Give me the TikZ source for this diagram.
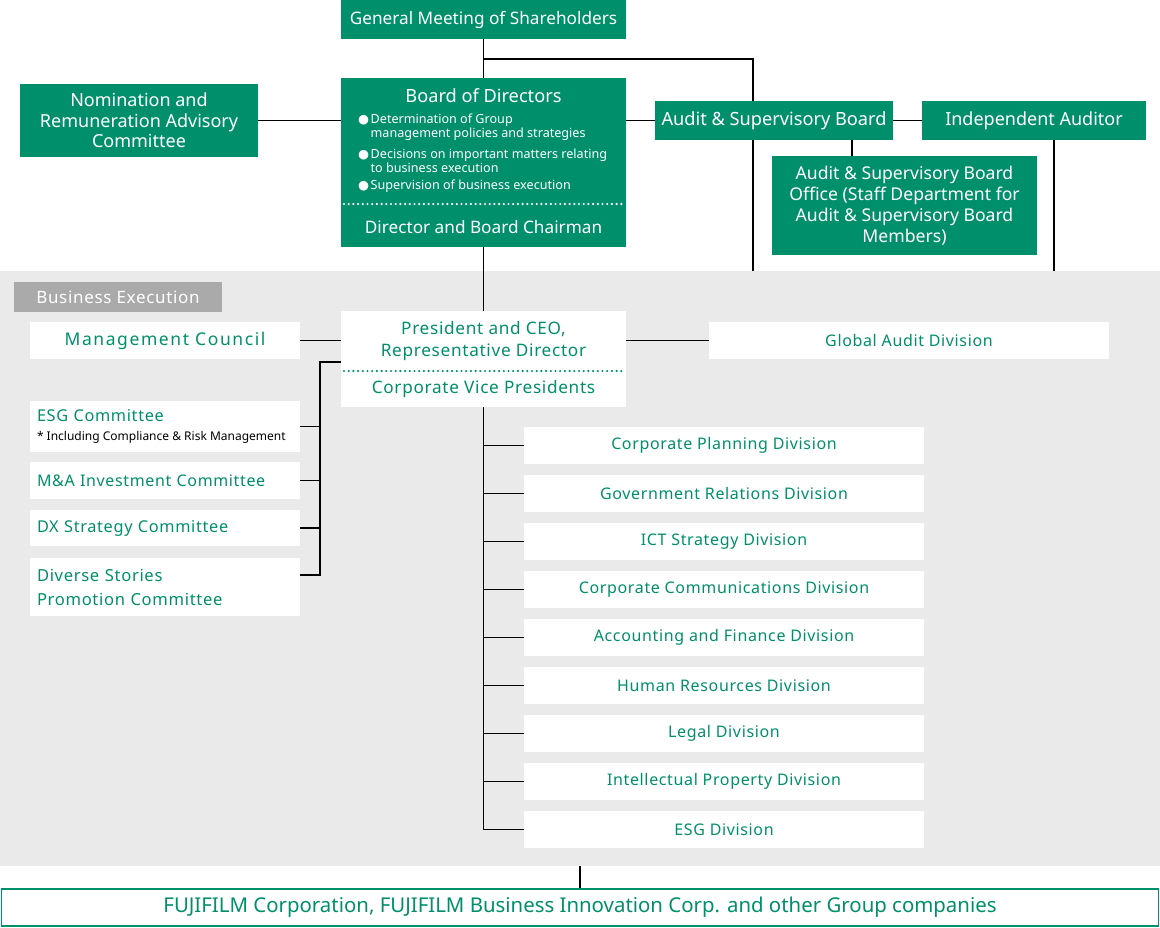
\documentclass[tikz,border=0pt]{standalone}
\usepackage{fontspec}
\setmainfont{Noto Sans}
\newfontfamily\widefont[LetterSpace=4]{Noto Sans}
\newfontfamily\widerfont[LetterSpace=9]{Noto Sans}
\newfontfamily\dotfont{DejaVu Sans}

\definecolor{fujigreen}{RGB}{0,143,107}
\definecolor{bggray}{RGB}{234,234,234}
\definecolor{labelgray}{RGB}{170,170,170}

\pgfdeclarelayer{bg}
\pgfdeclarelayer{lines}
\pgfsetlayers{bg,lines,main}

\tikzset{
  greenbox/.style={fill=fujigreen,text=white,inner sep=0pt,align=center,font=\fontsize{17.6}{20.8}\selectfont},
  whitebox/.style={fill=white,text=fujigreen,inner sep=0pt,align=center,font=\widefont\fontsize{16}{22}\selectfont},
  leftbox/.style={whitebox,align=left,text width=256pt,inner xsep=7pt},
  boxsize/.style 2 args={minimum width=#1pt,minimum height=#2pt},
  conn/.style={draw=black,line width=1.2pt},
  dotline/.style={line width=2.4pt,line cap=round,dash pattern=on 0pt off 4.7pt},
}

\begin{document}
\begin{tikzpicture}[x=1pt,y=-1pt]
\useasboundingbox (0,0) rectangle (1160,927);
\begin{pgfonlayer}{bg}
\fill[bggray] (0,271) rectangle (1160,866);
\end{pgfonlayer}

% governance
\node[greenbox,boxsize={285}{39},font=\fontsize{17.2}{20}\selectfont] (gms) at (483.5,19.5) {General Meeting of Shareholders};
\node[greenbox,boxsize={285}{169}] (board) at (483.5,162.5) {};
\node[greenbox,font=\fontsize{18.2}{21}\selectfont] (boardtitle) at (483.5,96) {Board of Directors};
\node[greenbox,anchor=north west,align=left,font=\fontsize{12.6}{14}\selectfont] (duties) at (358,113) {%
\begin{tabular}{@{}l@{\hspace{1.5pt}}l@{}}
{\dotfont ●} & Determination of Group\\
 & management policies and strategies\\[7pt]
{\dotfont ●} & Decisions on important matters relating\\
 & to business execution\\[3pt]
{\dotfont ●} & Supervision of business execution
\end{tabular}};
\draw[dotline,white] (344,204) -- (624,204);
\node[greenbox,font=\fontsize{17.2}{20}\selectfont] (chair) at (483.5,227) {Director and Board Chairman};
\node[greenbox,boxsize={238}{73},font=\fontsize{18}{20.5}\selectfont] (nom) at (139,120.5) {Nomination and\\Remuneration Advisory\\Committee};
\node[greenbox,boxsize={238}{39},font=\fontsize{18.2}{21}\selectfont] (asb) at (774,120.5) {Audit \& Supervisory Board};
\node[greenbox,boxsize={224}{39},font=\fontsize{18}{21}\selectfont] (indep) at (1034,120.5) {Independent Auditor};
\node[greenbox,boxsize={265}{99}] (asbo) at (904.5,205.5) {Audit \& Supervisory Board\\Office (Staff Department for\\Audit \& Supervisory Board\\Members)};

% business execution
\node[fill=labelgray,text=white,inner sep=0pt,boxsize={208}{30},font=\widefont\fontsize{17}{18}\selectfont] (bizexec) at (118,297) {Business Execution};
\node[whitebox,boxsize={270}{37},font=\widerfont\fontsize{17.5}{22}\selectfont] (mgmt) at (165,340.5) {Management Council};
\node[whitebox,boxsize={285}{96}] (pres) at (483.5,359) {};
\node[whitebox,font=\widefont\fontsize{17.2}{22}\selectfont] (presname) at (483.5,341) {President and CEO,\\Representative Director};
\draw[dotline,fujigreen] (344,371) -- (624,371);
\node[whitebox,font=\widefont\fontsize{17.2}{22}\selectfont] (vp) at (483.5,389) {Corporate Vice Presidents};
\node[whitebox,boxsize={400}{37}] (gad) at (909,340.5) {Global Audit Division};

\node[leftbox,minimum height=51pt,font=\widefont\fontsize{16.3}{19}\selectfont] (esgc) at (165,426.5) {ESG Committee\\\mbox{\normalfont\fontsize{12}{13}\selectfont\spaceskip=0.26em\relax\color{black}* Including Compliance \& Risk Management}};
\node[leftbox,minimum height=37pt] (mac) at (165,480.5) {M\&A Investment Committee};
\node[leftbox,minimum height=36pt,font=\widefont\fontsize{16.3}{22}\selectfont] (dxc) at (165,528) {DX Strategy Committee};
\node[leftbox,minimum height=58pt,font=\widefont\fontsize{16.6}{24}\selectfont] (dsc) at (165,587) {Diverse Stories\\Promotion Committee};

\foreach \name [count=\i] in {Corporate Planning Division,Government Relations Division,ICT Strategy Division,Corporate Communications Division,Accounting and Finance Division,Human Resources Division,Legal Division,Intellectual Property Division,ESG Division}
  \node[whitebox,boxsize={400}{37}] (div\i) at (724,{397.5+48*\i}) {\name};

\node[draw=fujigreen,line width=1.5pt,fill=white,text=fujigreen,inner sep=0pt,boxsize={1157}{37},font=\fontsize{20.4}{22}\selectfont] (fuji) at (580,907.5) {FUJIFILM Corporation, FUJIFILM Business Innovation Corp. and other Group companies};

% connectors
\begin{pgfonlayer}{lines}
\coordinate (gmsfork) at (483.5,59);
\coordinate (asbdrop) at (753,271);
\coordinate (indepdrop) at (1054,271);
\coordinate (combus) at (320,362);
\coordinate (dsctap) at (300,575);
\draw[conn] (gms.south) -- (board.north);
\draw[conn] (gmsfork) -| (asbdrop);
\draw[conn] (nom.east) -- (board.west |- nom.east);
\draw[conn] (board.east |- asb.west) -- (asb.west);
\draw[conn] (asb.east) -- (indep.west);
\draw[conn] ([xshift=78pt]asb.south) -- ([xshift=78pt]asb.south |- asbo.north);
\draw[conn] (indepdrop |- indep.south) -- (indepdrop);
\draw[conn] (board.south) -- (pres.north);
\draw[conn] (mgmt.east) -- (pres.west |- mgmt.east);
\draw[conn] (pres.east |- gad.west) -- (gad.west);
\draw[conn] (pres.west |- combus) -- (combus) |- (dsctap);
\foreach \c in {esgc,mac,dxc}
  \draw[conn] (\c.east) -- (\c.east -| combus);
\draw[conn] (pres.south) |- (div9.west);
\foreach \i in {1,...,8}
  \draw[conn] (div\i.west) -- (div\i.west -| pres.south);
\draw[conn] (fuji.north) -- (fuji.north |- 0,866);
\end{pgfonlayer}
\end{tikzpicture}
\end{document}
